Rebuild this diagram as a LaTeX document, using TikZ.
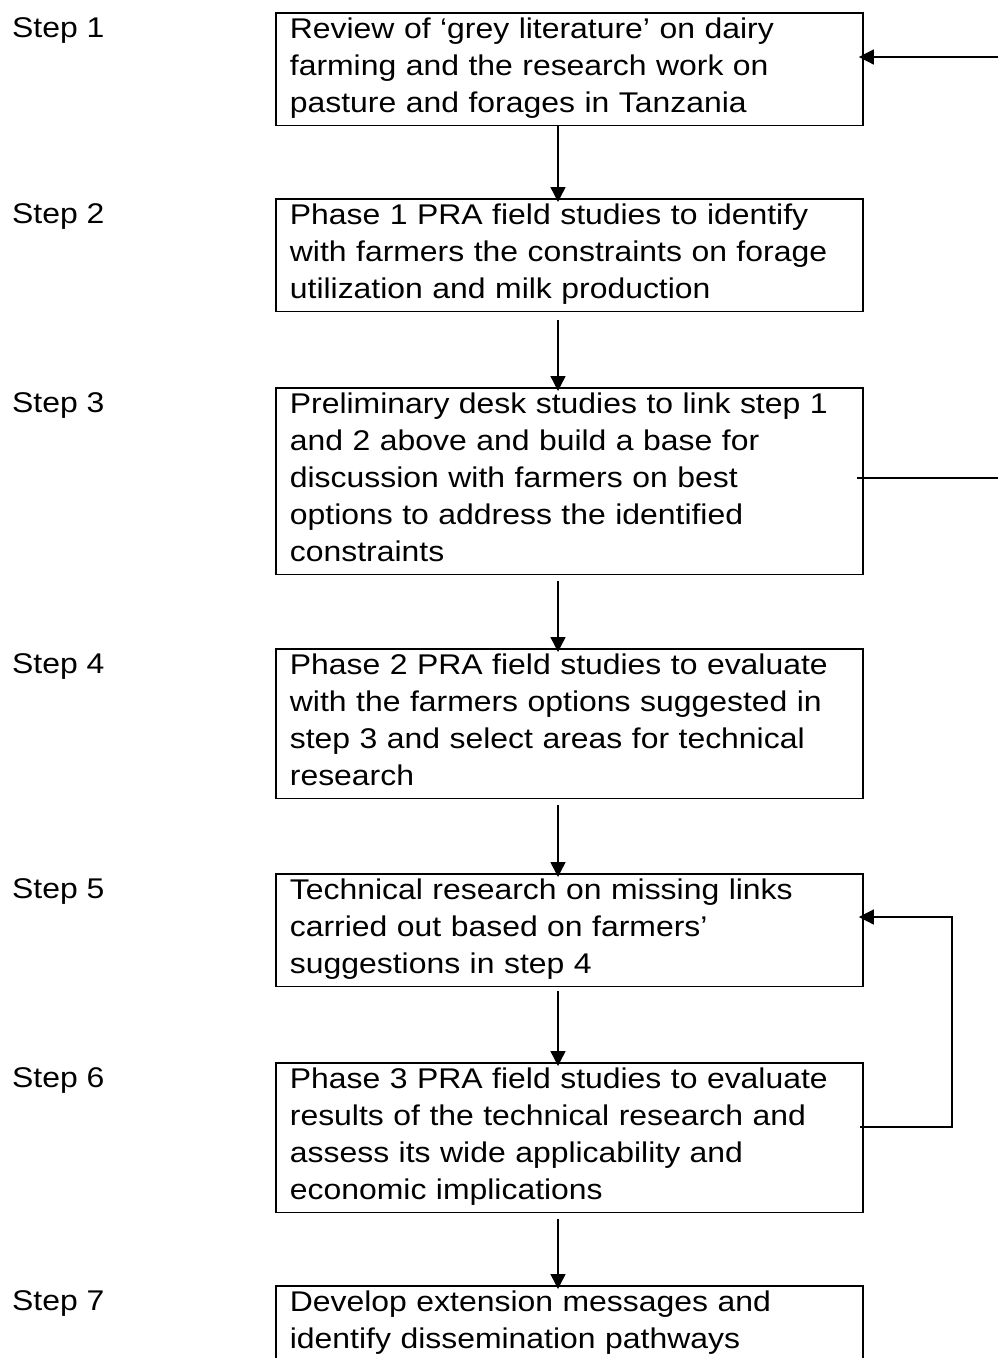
\documentclass[tikz,border=0pt]{standalone}
\usepackage{fontspec}
\setmainfont[FakeStretch=1.12]{Liberation Sans}
\usetikzlibrary{arrows.meta}
\newcommand\lowstrut{\rule[-9pt]{0pt}{9pt}}
\begin{document}
\begin{tikzpicture}[x=1pt,y=-1pt,
    font=\fontsize{28.5}{37}\selectfont,
    stepbox/.style={draw,line width=1.8pt,anchor=north west,align=left,
      text width=559pt,inner xsep=14pt,inner ysep=4.5pt,
      execute at end node=\lowstrut},
    steplbl/.style={anchor=base west,inner sep=0pt},
    flow/.style={line width=1.4pt,-{Triangle[length=15pt,width=15pt]}},
    link/.style={line width=1.4pt}]
  \useasboundingbox (0,0) rectangle (998,1358);
  % boxes
  \node[stepbox] (b1) at (275,12) {Review of ‘grey literature’ on dairy\\farming and the research work on\\pasture and forages in Tanzania};
  \node[stepbox] (b2) at (275,198) {Phase 1 PRA field studies to identify\\with farmers the constraints on forage\\utilization and milk production};
  \node[stepbox] (b3) at (275,387) {Preliminary desk studies to link step 1\\and 2 above and build a base for\\discussion with farmers on best\\options to address the identified\\constraints};
  \node[stepbox] (b4) at (275,648) {Phase 2 PRA field studies to evaluate\\with the farmers options suggested in\\step 3 and select areas for technical\\research};
  \node[stepbox] (b5) at (275,873) {Technical research on missing links\\carried out based on farmers’\\suggestions in step 4};
  \node[stepbox] (b6) at (275,1062) {Phase 3 PRA field studies to evaluate\\results of the technical research and\\assess its wide applicability and\\economic implications};
  \node[stepbox] (b7) at (275,1285) {Develop extension messages and\\identify dissemination pathways};
  % step labels
  \node[steplbl] (s1) at (12,37) {Step 1};
  \node[steplbl] (s2) at (12,223) {Step 2};
  \node[steplbl] (s3) at (12,412) {Step 3};
  \node[steplbl] (s4) at (12,673) {Step 4};
  \node[steplbl] (s5) at (12,898) {Step 5};
  \node[steplbl] (s6) at (12,1087) {Step 6};
  \node[steplbl] (s7) at (12,1310) {Step 7};
  % main flow
  \begin{scope}[shorten >=-4pt]
    \draw[flow] (b1.south -| 558,0) -- (b2.north -| 558,0);
    \draw[flow] ([yshift=-8pt]b2.south -| 558,0) -- (b3.north -| 558,0);
    \draw[flow] ([yshift=-6pt]b3.south -| 558,0) -- (b4.north -| 558,0);
    \draw[flow] ([yshift=-6pt]b4.south -| 558,0) -- (b5.north -| 558,0);
    \draw[flow] ([yshift=-4pt]b5.south -| 558,0) -- (b6.north -| 558,0);
    \draw[flow] ([yshift=-6pt]b6.south -| 558,0) -- (b7.north -| 558,0);
  \end{scope}
  % side links
  \coordinate (in1) at (998,57);
  \coordinate (out3) at (998,478);
  \coordinate (loop) at (952,917);
  \draw[flow,shorten >=-5pt] (in1) -- (in1 -| b1.east);
  \draw[link,shorten <=-7pt] (out3 -| b3.east) -- (out3);
  \draw[flow,shorten <=-4pt,shorten >=-5pt] (b6.east |- 0,1127) -| (loop) -- (loop -| b5.east);
\end{tikzpicture}
\end{document}
